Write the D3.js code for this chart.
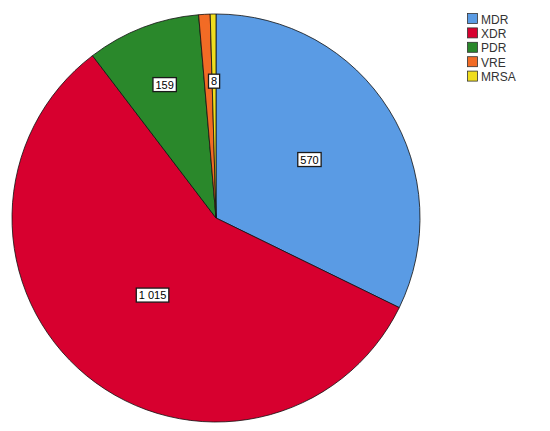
<!DOCTYPE html>
<html><head><meta charset="utf-8">
<script src="https://cdn.jsdelivr.net/npm/d3@7"></script>
<style>body{margin:0;background:#fff}svg{display:block}</style>
</head><body>
<svg id="chart" width="550" height="431"></svg>
<script>
const categories = ["MDR", "XDR", "PDR", "VRE", "MRSA"];
const values = [570, 1015, 159, 16, 8];
const valueLabels = ["570", "1 015", "159", "16", "8"];
const colors = ["#5A9BE4", "#D7002F", "#2A882B", "#F26B25", "#EFDD1E"];

const svg = d3.select("#chart");
const cx = 216, cy = 218, r = 204;
const g = svg.append("g").attr("transform", `translate(${cx},${cy})`);

const data = categories.map((c, i) => ({cat: c, value: values[i], label: valueLabels[i], color: colors[i]}));
const pie = d3.pie().value(d => d.value).sort(null);
const arcs = pie(data);
const arc = d3.arc().innerRadius(0).outerRadius(r);

g.selectAll("path").data(arcs).join("path")
  .attr("d", arc).attr("fill", d => d.data.color)
  .attr("stroke", "#111").attr("stroke-width", 0.8);

// label placement (fraction of radius), VRE label hidden as in reference
const labelFrac = {MDR: 0.54, XDR: 0.49, PDR: 0.70, MRSA: 0.67};
const labelG = g.selectAll("g.lbl").data(arcs.filter(d => labelFrac[d.data.cat] != null)).join("g")
  .attr("class", "lbl")
  .attr("transform", d => {
    const a = (d.startAngle + d.endAngle) / 2;
    const rr = r * labelFrac[d.data.cat];
    return `translate(${Math.sin(a) * rr},${-Math.cos(a) * rr})`;
  });
labelG.append("text")
  .attr("text-anchor", "middle").attr("dy", "0.35em")
  .attr("font-family", "Liberation Sans, Arial, sans-serif").attr("font-size", 11)
  .attr("fill", "#000").text(d => d.data.label);
labelG.each(function() {
  const t = d3.select(this).select("text").node().getBBox();
  d3.select(this).insert("rect", "text")
    .attr("x", t.x - 2.5).attr("y", t.y - 1)
    .attr("width", t.width + 5).attr("height", t.height + 2)
    .attr("fill", "#fff").attr("stroke", "#1a1a1a").attr("stroke-width", 1.3);
});

// legend
const leg = svg.append("g").attr("transform", "translate(467,13)");
const items = leg.selectAll("g").data(data).join("g")
  .attr("transform", (d, i) => `translate(0,${i * 14.4})`);
items.append("rect").attr("x", 0.5).attr("y", 0.5).attr("width", 10).attr("height", 10)
  .attr("fill", d => d.color).attr("stroke", "#333").attr("stroke-width", 0.8);
items.append("text").attr("x", 14).attr("y", 10.5)
  .attr("font-family", "Liberation Sans, Arial, sans-serif").attr("font-size", 12)
  .attr("fill", "#333").text(d => d.cat);
</script>
</body></html>
